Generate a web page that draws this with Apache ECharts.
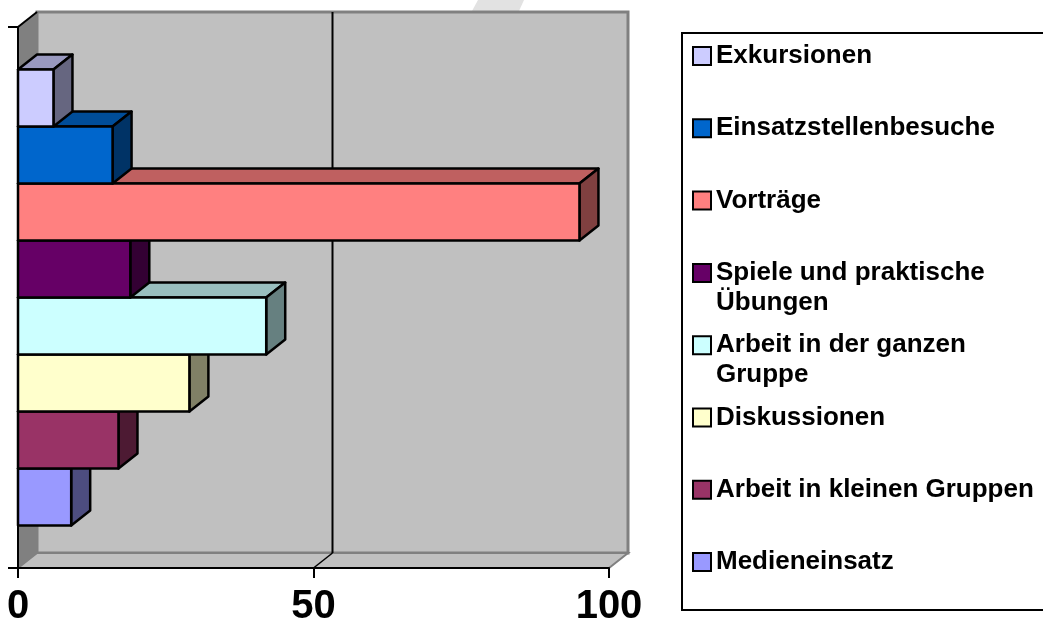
<!DOCTYPE html>
<html><head><meta charset="utf-8">
<script src="https://cdn.jsdelivr.net/npm/echarts@6/dist/echarts.min.js"></script>
<style>html,body{margin:0;padding:0;background:#fff}#c{width:1043px;height:628px}</style>
</head><body><div id="c"></div>
<script>
// ---- data ----
const categories = [''];
const seriesNames = ['Medieneinsatz', 'Arbeit in kleinen Gruppen', 'Diskussionen', 'Arbeit in der ganzen Gruppe', 'Spiele und praktische Übungen', 'Vorträge', 'Einsatzstellenbesuche', 'Exkursionen'];
const values = [9, 17, 29, 42, 19, 95, 16, 6];
const xTicks = [0, 50, 100];
const legendLabels = {
  'Spiele und praktische Übungen': 'Spiele und praktische\nÜbungen',
  'Arbeit in der ganzen Gruppe': 'Arbeit in der ganzen\nGruppe'
};
// ---- styles ----
const colors = ['#9999FF', '#993366', '#FFFFCC', '#CCFFFF', '#660066', '#FF8080', '#0066CC', '#CCCCFF'];
const FONT = '"Liberation Sans", Arial, sans-serif';
const DX = 19, DY = -15, FILL = 0.843;

function shade(hex, f) {
  const n = parseInt(hex.slice(1), 16);
  const r = Math.round(((n >> 16) & 255) * f), g = Math.round(((n >> 8) & 255) * f), b = Math.round((n & 255) * f);
  return 'rgb(' + r + ',' + g + ',' + b + ')';
}

function renderWalls(params, api) {
  const c = api.coord([xTicks[0], 0]);
  const bw = api.size([0, 1])[1];
  const x0 = c[0], x1 = api.coord([xTicks[xTicks.length - 1], 0])[0];
  const yT = c[1] - bw / 2, yB = c[1] + bw / 2;
  const children = [
    { type: 'polygon', shape: { points: [[x0 + DX, yT + DY], [x1 + DX, yT + DY], [x1 + DX, yB + DY], [x0 + DX, yB + DY]] }, style: { fill: '#c0c0c0', stroke: '#808080', lineWidth: 3 } },
    { type: 'polygon', shape: { points: [[x0, yT], [x0 + DX, yT + DY], [x0 + DX, yB + DY], [x0, yB]] }, style: { fill: '#808080', stroke: '#808080', lineWidth: 1 } },
    { type: 'polygon', shape: { points: [[x0, yB], [x0 + DX, yB + DY], [x1 + DX, yB + DY], [x1, yB]] }, style: { fill: '#c0c0c0', stroke: '#808080', lineWidth: 2 } },
    { type: 'line', shape: { x1: x0, y1: yT, x2: x0 + DX, y2: yT + DY }, style: { stroke: '#000', lineWidth: 2 } }
  ];
  xTicks.slice(1, -1).forEach(function (t) {
    const x = api.coord([t, 0])[0];
    children.push({ type: 'line', shape: { x1: x + DX, y1: yT + DY, x2: x + DX, y2: yB + DY }, style: { stroke: '#000', lineWidth: 2 } });
    children.push({ type: 'line', shape: { x1: x, y1: yB, x2: x + DX, y2: yB + DY }, style: { stroke: '#000', lineWidth: 1.5 } });
  });
  return { type: 'group', children: children };
}

function makeBarRenderer(k, color) {
  return function (params, api) {
    const c = api.coord([0, api.value(1)]);
    const e = api.coord([api.value(0), api.value(1)]);
    const bw = api.size([0, 1])[1];
    const h = bw * FILL / seriesNames.length;
    const groupBottom = c[1] + h * seriesNames.length / 2;
    const yB = groupBottom - k * h, yT = yB - h;
    const x0 = c[0], x1 = e[0];
    const st = { stroke: '#000', lineWidth: 2.5, lineJoin: 'round' };
    return { type: 'group', children: [
      { type: 'polygon', shape: { points: [[x0, yT], [x1, yT], [x1 + DX, yT + DY], [x0 + DX, yT + DY]] }, style: Object.assign({ fill: shade(color, 0.75) }, st) },
      { type: 'polygon', shape: { points: [[x1, yT], [x1 + DX, yT + DY], [x1 + DX, yB + DY], [x1, yB]] }, style: Object.assign({ fill: shade(color, 0.5) }, st) },
      { type: 'rect', shape: { x: x0, y: yT, width: x1 - x0, height: h }, style: Object.assign({ fill: color }, st) }
    ] };
  };
}

const series = [{ type: 'custom', name: '__walls', data: [[0, 0]], renderItem: renderWalls, silent: true, z: 1, encode: { x: 0, y: 1 } }];
seriesNames.forEach(function (n, k) {
  series.push({ type: 'custom', name: n, data: [[values[k], 0]], encode: { x: 0, y: 1 }, renderItem: makeBarRenderer(k, colors[k]), itemStyle: { color: colors[k] }, z: 2 });
});

const legends = [];
const order = seriesNames.slice().reverse();
order.forEach(function (n, i) {
  const label = legendLabels[n] || n;
  const lines = label.split('\n').length;
  const cy = 56 + i * 72.3;
  legends.push({
    data: [n], orient: 'vertical', left: 692, top: cy - 15 - (lines - 1) * 30,
    padding: 0, itemGap: 0, itemWidth: 18, itemHeight: 18, icon: 'rect', selectedMode: false,
    itemStyle: { borderColor: '#000', borderWidth: 2 },
    formatter: function (name) {
      const l = legendLabels[name] || name;
      const m = l.split('\n').length;
      // leading blank lines keep the first line level with the icon
      return new Array(m).join('\n') + l;
    },
    textStyle: { fontFamily: FONT, fontSize: 26, fontWeight: 'bold', color: '#000', lineHeight: 30 }
  });
});

const chart = echarts.init(document.getElementById('c'), null, { renderer: 'canvas' });
chart.setOption({
  backgroundColor: '#fff',
  animation: false,
  grid: { left: 18, right: 434, top: 27, bottom: 60, containLabel: false },
  xAxis: {
    type: 'value', min: xTicks[0], max: xTicks[xTicks.length - 1], interval: 50, z: 5,
    axisLine: { show: true, lineStyle: { color: '#000', width: 2 } },
    axisTick: { show: true, length: 10, lineStyle: { color: '#000', width: 2 } },
    splitLine: { show: false },
    axisLabel: { fontFamily: FONT, fontSize: 40, fontWeight: 'bold', color: '#000', margin: 19 }
  },
  yAxis: {
    type: 'category', data: categories, z: 5,
    axisLine: { show: true, lineStyle: { color: '#000', width: 2 } },
    axisTick: { show: true, length: 10, lineStyle: { color: '#000', width: 2 } },
    axisLabel: { show: false },
    splitLine: { show: false }
  },
  legend: legends,
  graphic: [
    { type: 'polygon', z: 0, shape: { points: [[478, 0], [524, 0], [519, 11], [472, 11]] }, style: { fill: '#e2e2e2' }, silent: true },
    { type: 'rect', z: 0, shape: { x: 682, y: 33, width: 380, height: 577 }, style: { fill: '#fff', stroke: '#000', lineWidth: 2 }, silent: true }
  ],
  series: series
});
</script>
</body></html>
